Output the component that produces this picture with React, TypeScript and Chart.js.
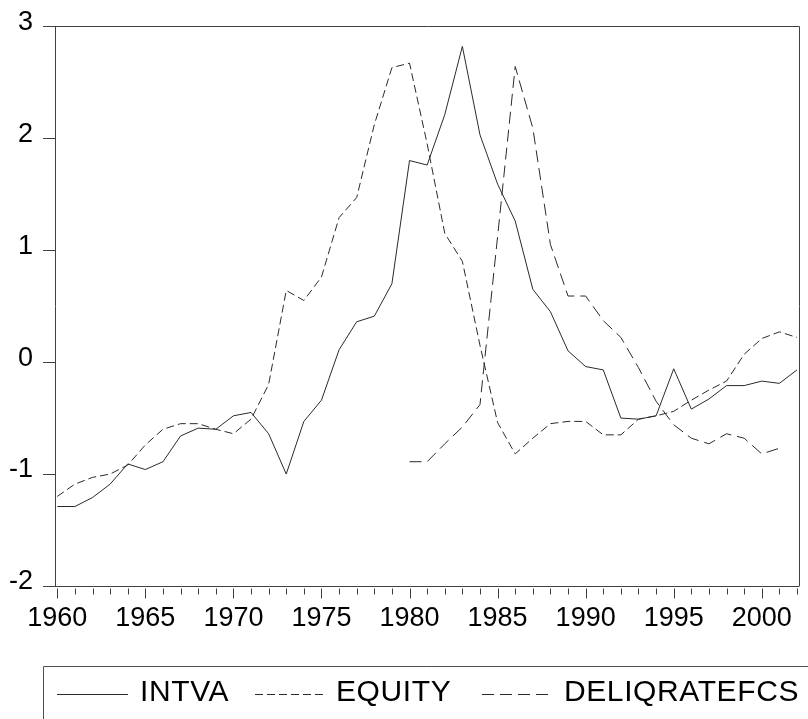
import React, { useEffect, useRef } from 'react';
import { Chart, registerables } from 'chart.js';

Chart.register(...registerables);

const years = [
  1960, 1961, 1962, 1963, 1964, 1965, 1966, 1967, 1968, 1969,
  1970, 1971, 1972, 1973, 1974, 1975, 1976, 1977, 1978, 1979,
  1980, 1981, 1982, 1983, 1984, 1985, 1986, 1987, 1988, 1989,
  1990, 1991, 1992, 1993, 1994, 1995, 1996, 1997, 1998, 1999,
  2000, 2001, 2002,
];

const intva = [
  -1.29, -1.29, -1.21, -1.09, -0.91, -0.96, -0.89, -0.66, -0.59, -0.6,
  -0.48, -0.45, -0.64, -1.0, -0.53, -0.34, 0.11, 0.36, 0.41, 0.7,
  1.8, 1.76, 2.21, 2.82, 2.03, 1.59, 1.26, 0.65, 0.45, 0.1,
  -0.04, -0.07, -0.5, -0.51, -0.48, -0.06, -0.42, -0.33, -0.21, -0.21,
  -0.17, -0.19, -0.07,
];

const equity = [
  -1.2, -1.09, -1.03, -1.0, -0.92, -0.74, -0.6, -0.55, -0.55, -0.6,
  -0.64, -0.51, -0.2, 0.64, 0.55, 0.76, 1.29, 1.47, 2.12, 2.63,
  2.67, 1.95, 1.15, 0.9, 0.15, -0.54, -0.82, -0.68, -0.55, -0.53,
  -0.53, -0.65, -0.65, -0.51, -0.48, -0.44, -0.34, -0.25, -0.17, 0.07,
  0.21, 0.27, 0.22,
];

const deliqratefcs = [
  null, null, null, null, null, null, null, null, null, null,
  null, null, null, null, null, null, null, null, null, null,
  -0.89, -0.89, -0.73, -0.58, -0.38, 1.12, 2.64, 2.09, 1.05, 0.59,
  0.59, 0.37, 0.22, -0.05, -0.35, -0.56, -0.68, -0.73, -0.64, -0.68,
  -0.82, -0.77, null,
];

const xLabelYears = [1960, 1965, 1970, 1975, 1980, 1985, 1990, 1995, 2000];
const yTickValues = [-2, -1, 0, 1, 2, 3];
const seriesNames = ['INTVA', 'EQUITY', 'DELIQRATEFCS'];

const AXIS = '#404040';
const LINE = '#2a2a2a';
const FONT = "'Liberation Sans', Arial, sans-serif";

const dashes: number[][] = [[], [8, 4], [12, 6]];

// legend layout (pixels)
const legendSampleX = [57, 255, 482];
const legendTextX = [140, 336, 564];
const legendSampleW = 71;

const framePlugin = {
  id: 'frameAndLegend',
  afterDraw(chart: any) {
    const { ctx, chartArea: ca, scales } = chart;
    ctx.save();
    ctx.strokeStyle = AXIS;
    ctx.lineWidth = 1;
    ctx.setLineDash([]);
    const top = Math.round(ca.top) + 0.5;
    const right = Math.round(ca.right) + 0.5;
    const bottom = Math.round(ca.bottom) + 0.5;
    ctx.beginPath();
    ctx.moveTo(ca.left, top);
    ctx.lineTo(right, top);
    ctx.lineTo(right, bottom);
    ctx.stroke();

    // x-axis tick marks (major / minor)
    const xs = scales.x;
    years.forEach((yr) => {
      const px = Math.round(xs.getPixelForValue(yr)) + 0.5;
      const major = yr % 5 === 0;
      ctx.beginPath();
      ctx.moveTo(px, bottom + 2);
      ctx.lineTo(px, bottom + (major ? 12 : 8));
      ctx.stroke();
    });

    // legend box
    ctx.strokeStyle = '#505050';
    ctx.beginPath();
    ctx.moveTo(43.5, 730);
    ctx.lineTo(43.5, 666.5);
    ctx.lineTo(830, 666.5);
    ctx.stroke();

    chart.data.datasets.forEach((ds: any, i: number) => {
      ctx.strokeStyle = LINE;
      ctx.lineWidth = 1;
      ctx.setLineDash(ds.borderDash || []);
      ctx.beginPath();
      ctx.moveTo(legendSampleX[i], 694.5);
      ctx.lineTo(legendSampleX[i] + legendSampleW, 694.5);
      ctx.stroke();
      ctx.setLineDash([]);
      ctx.fillStyle = '#000';
      ctx.font = `30px ${FONT}`;
      try { (ctx as any).letterSpacing = '0.6px'; } catch (e) { /* ignore */ }
      ctx.textBaseline = 'middle';
      ctx.textAlign = 'left';
      ctx.fillText(ds.label, legendTextX[i], 693);
    });
    ctx.restore();
  },
};

export default function App() {
  const ref = useRef<HTMLCanvasElement | null>(null);

  useEffect(() => {
    if (!ref.current) return;
    Chart.defaults.font.family = FONT;
    const series = [intva, equity, deliqratefcs];
    const chart = new Chart(ref.current, {
      type: 'line',
      data: {
        datasets: series.map((vals, i) => ({
          label: seriesNames[i],
          data: years.map((x, j) => ({ x, y: vals[j] })),
          borderColor: LINE,
          borderWidth: 1,
          borderDash: dashes[i],
          pointRadius: 0,
          tension: 0,
          fill: false,
          spanGaps: false,
        })),
      },
      options: {
        animation: false,
        responsive: false,
        devicePixelRatio: 1,
        layout: { padding: { top: 24, right: 4, left: 0, bottom: 0 } },
        plugins: {
          legend: { display: false },
          tooltip: { enabled: false },
        },
        scales: {
          x: {
            type: 'linear',
            min: 1959.87,
            max: 2002.1,
            afterBuildTicks: (s: any) => {
              s.ticks = xLabelYears.map((v) => ({ value: v }));
            },
            afterFit: (s: any) => {
              s.height = 133;
            },
            ticks: {
              autoSkip: false,
              maxRotation: 0,
              padding: 16,
              color: '#000',
              font: { size: 27 },
              callback: (v: any) => String(v),
            },
            grid: { drawOnChartArea: false, drawTicks: false },
            border: { color: AXIS, width: 1 },
          },
          y: {
            min: -2,
            max: 3,
            afterBuildTicks: (s: any) => {
              s.ticks = yTickValues.map((v) => ({ value: v }));
            },
            afterFit: (s: any) => {
              s.width = 55;
            },
            ticks: {
              padding: 10,
              labelOffset: -4,
              color: '#000',
              font: { size: 27 },
              callback: (v: any) => String(v),
            },
            grid: { drawOnChartArea: false, tickLength: 12, tickColor: AXIS },
            border: { color: AXIS, width: 1 },
          },
        },
      },
      plugins: [framePlugin],
    } as any);
    return () => chart.destroy();
  }, []);

  return (
    <div style={{ position: 'absolute', left: 0, top: 0, width: 808, height: 719, background: '#fff' }}>
      <canvas ref={ref} width={808} height={719} style={{ width: 808, height: 719 }} />
    </div>
  );
}
